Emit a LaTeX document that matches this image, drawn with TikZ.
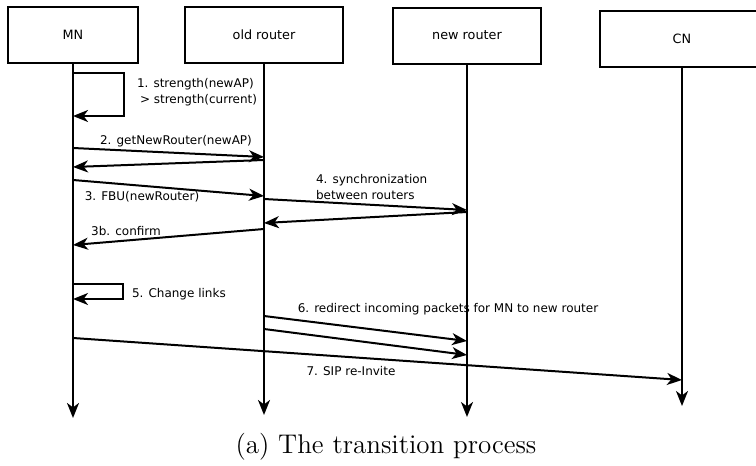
\documentclass[tikz,border=0pt]{standalone}
\usepackage{fontspec}
\newfontfamily\diagfont{DejaVu Sans}
\usepackage{tikz}
\usetikzlibrary{arrows.meta,positioning,calc}

\begin{document}
\begin{tikzpicture}[x=0.5pt, y=-0.5pt, >={Stealth[length=7.5pt,width=6pt,inset=2.2pt]}, line width=1pt,
    actor/.style={draw, line width=1pt, minimum height=28pt,
                  font=\diagfont\fontsize{6.4}{7}\selectfont},
    lbl/.style={font=\diagfont\fontsize{6}{8}\selectfont, inner sep=0pt, align=left}]

  \useasboundingbox (0,0) rectangle (756,466);
  \clip (0,0) rectangle (756,466);

  % participants
  \node[actor, minimum width=65pt] (mn) at (73,35) {MN};
  \node[actor, minimum width=79pt] (old) at (264,35) {old router};
  \node[actor, minimum width=74pt] (new) at (467,35.5) {new router};
  \node[actor, minimum width=82pt] (cn) at (682,39) {CN};

  % lifelines
  \coordinate (mnend) at (mn.south |- 0,418);
  \coordinate (oldend) at (old.south |- 0,415);
  \coordinate (newend) at (new.south |- 0,417);
  \coordinate (cnend) at (cn.south |- 0,406);
  \draw[->] (mn.south) -- (mnend);
  \draw[->] (old.south) -- (oldend);
  \draw[->] (new.south) -- (newend);
  \draw[->] (cn.south) -- (cnend);

  % 1. handover decision
  \draw[->] (mn |- 0,73) -- ++(51,0) |- (mn |- 0,116);
  \node[lbl, anchor=north west] (l1) at (136,77) {1. strength(newAP)\\\hspace*{1.5pt}> strength(current)};

  % 2. query new router
  \draw[->] (mn |- 0,148) -- (old |- 0,157);
  \draw[->] (old |- 0,160) -- (mn |- 0,167);
  \node[lbl] (l2) at (176,141) {2. getNewRouter(newAP)};

  % 3. fast binding update
  \draw[->] (mn |- 0,180) -- (old |- 0,196);
  \node[lbl] (l3) at (142,197) {3. FBU(newRouter)};

  % 4. router synchronization
  \draw[->] (old |- 0,199) -- (new |- 0,210);
  \draw[->] (new |- 0,212) -- (old |- 0,223);
  \node[lbl, anchor=west] (l4) at (315,187) {4. synchronization\\between routers};

  % 3b. confirm
  \draw[->] (old |- 0,229) -- (mn |- 0,245);
  \node[lbl] (l3b) at (126,231) {3b. confirm};

  % 5. change links
  \draw[->] (mn |- 0,284) -- ++(50,0) |- (mn |- 0,299);
  \node[lbl, anchor=west] (l5) at (131,294) {5. Change links};

  % 6. redirect packets
  \draw[->] (old |- 0,316) -- (new |- 0,341);
  \draw[->] (old |- 0,329) -- (new |- 0,355);
  \node[lbl] (l6) at (448,309) {6. redirect incoming packets for MN to new router};

  % 7. SIP re-invite
  \draw[->] (mn |- 0,338) -- (cn |- 0,380);
  \node[lbl] (l7) at (351,371) {7. SIP re-Invite};

  \node[font=\fontsize{13.5}{16}\selectfont] (caption) at (386,447) {(a) The transition process};
\end{tikzpicture}
\end{document}
